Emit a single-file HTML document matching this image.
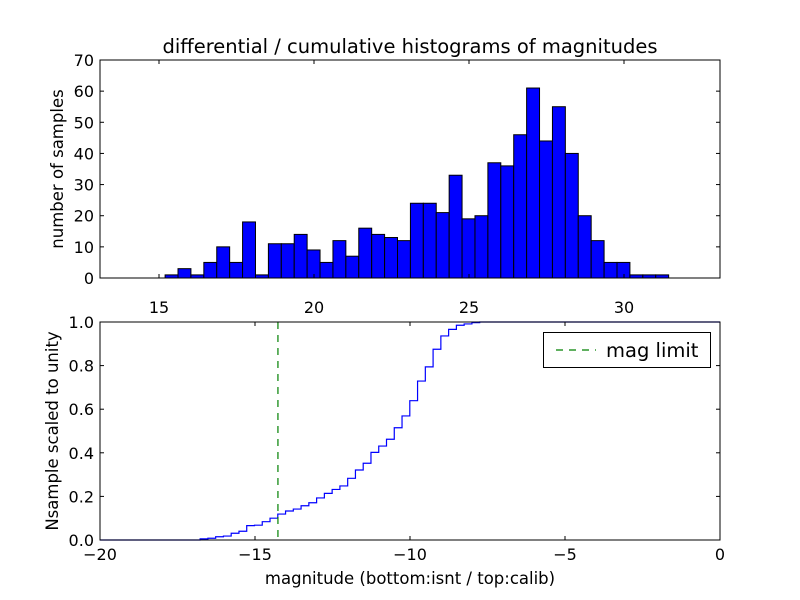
<!DOCTYPE html>
<html><head><meta charset="utf-8"><style>
body{margin:0;background:#fff}
svg{display:block;font-family:"DejaVu Sans","Liberation Sans",sans-serif}
</style></head><body>
<svg id="c" width="800" height="600" xmlns="http://www.w3.org/2000/svg">
<rect width="800" height="600" fill="#fff"/>
</svg>
<script>
const histCounts=[1,3,1,5,10,5,18,1,11,11,14,9,5,12,7,16,14,13,12,24,24,21,33,19,20,37,36,46,61,44,55,40,20,12,5,5,1,1,1];
const histStart=15.197, histWidth=0.4165;
const topXTicks=[15,20,25,30];
const topYTicks=[0,10,20,30,40,50,60,70];
const cumLevels=[.005,.008,.015,.018,.031,.04,.066,.068,.084,.1,.119,.133,.142,.157,.171,.193,.214,.232,.248,.283,.321,.352,.402,.431,.462,.515,.569,.639,.729,.794,.875,.936,.966,.985,.991,.997,1];
const cumStart=-16.77, cumStep=0.2505;
const magLimit=-14.26;
const botXTicks=[-20,-15,-10,-5,0];
const botYTicks=[0,0.2,0.4,0.6,0.8,1.0];

const NS='http://www.w3.org/2000/svg';
const svg=document.getElementById('c');
function mk(t,a,p){const e=document.createElementNS(NS,t);for(const k in a)e.setAttribute(k,a[k]);(p||svg).appendChild(e);return e;}
const L=100,R=720;
const T1=60,B1=278,T2=322,B2=540;
const x1=v=>L+(v-13.097)*31;
const y1=v=>B1-(v/70)*(B1-T1);
const x2=v=>L+(v+20)*31;
const y2=v=>B2-v*(B2-T2);

const g1=mk('g',{});


histCounts.forEach((c,i)=>{
  const xa=x1(histStart+i*histWidth), xb=x1(histStart+(i+1)*histWidth);
  const r=mk('rect',{x:xa,y:y1(c),width:xb-xa,height:B1-y1(c),fill:'#0000ff',stroke:'#000','stroke-width':1},g1);
  
  
});
const f1=mk('rect',{x:L,y:T1,width:R-L,height:B1-T1,fill:'none',stroke:'#000','stroke-width':1},g1);


topYTicks.forEach(v=>{
  const y=y1(v);
  mk('line',{x1:L,x2:L+4,y1:y,y2:y,stroke:'#000'},g1);
  mk('line',{x1:R,x2:R-4,y1:y,y2:y,stroke:'#000'},g1);
  const t=mk('text',{x:L-6,y:y+6,'text-anchor':'end','font-size':16},g1);t.textContent=v;
  
  
});
topXTicks.forEach(v=>{
  const x=x1(v);
  mk('line',{x1:x,x2:x,y1:B1,y2:B1-4,stroke:'#000'},g1);
  mk('line',{x1:x,x2:x,y1:T1,y2:T1+4,stroke:'#000'},g1);
  const t=mk('text',{x:x,y:B1+35,'text-anchor':'middle','font-size':16},g1);t.textContent=v;
  
  
});
const tt=mk('text',{x:410,y:53,'text-anchor':'middle','font-size':19.5});tt.textContent='differential / cumulative histograms of magnitudes';


const yl1=mk('text',{x:63,y:169,'text-anchor':'middle','font-size':16.5,transform:'rotate(-90 63 169)'});yl1.textContent='number of samples';



const g2=mk('g',{});


let d='M'+x2(-20)+','+y2(0)+' L'+x2(cumStart)+','+y2(0);
cumLevels.forEach((v,i)=>{const x=x2(cumStart+i*cumStep);d+=' L'+x+','+y2(v);if(i<cumLevels.length-1)d+=' L'+x2(cumStart+(i+1)*cumStep)+','+y2(v);});
d+=' L'+x2(0)+','+y2(1);
const p=mk('path',{d:d,fill:'none',stroke:'#0000ff','stroke-width':1.2},g2);


const ml=mk('line',{x1:x2(magLimit),x2:x2(magLimit),y1:T2,y2:B2,stroke:'#008000','stroke-width':1.2,'stroke-dasharray':'7,6'},g2);


const f2=mk('rect',{x:L,y:T2,width:R-L,height:B2-T2,fill:'none',stroke:'#000','stroke-width':1},g2);


botYTicks.forEach(v=>{
  const y=y2(v);
  mk('line',{x1:L,x2:L+4,y1:y,y2:y,stroke:'#000'},g2);
  mk('line',{x1:R,x2:R-4,y1:y,y2:y,stroke:'#000'},g2);
  const t=mk('text',{x:L-6,y:y+6,'text-anchor':'end','font-size':16},g2);t.textContent=v.toFixed(1);
  
  
});
botXTicks.forEach(v=>{
  const x=x2(v);
  mk('line',{x1:x,x2:x,y1:B2,y2:B2-4,stroke:'#000'},g2);
  mk('line',{x1:x,x2:x,y1:T2,y2:T2+4,stroke:'#000'},g2);
  const t=mk('text',{x:x,y:B2+20,'text-anchor':'middle','font-size':16},g2);t.textContent=(v<0?'\u2212'+(-v):v);
  
  
});
const xl=mk('text',{x:410,y:584,'text-anchor':'middle','font-size':16.5});xl.textContent='magnitude (bottom:isnt / top:calib)';


const yl2=mk('text',{x:58,y:431,'text-anchor':'middle','font-size':16.5,transform:'rotate(-90 58 431)'});yl2.textContent='Nsample scaled to unity';


const lg=mk('g',{});


mk('rect',{x:543.5,y:332.5,width:167,height:35,fill:'#fff',stroke:'#000'},lg);
mk('line',{x1:556,x2:596,y1:350,y2:350,stroke:'#008000','stroke-width':1.2,'stroke-dasharray':'7,6'},lg);
const lt=mk('text',{x:606,y:357,'font-size':19.5},lg);lt.textContent='mag limit';


</script>
</body></html>
